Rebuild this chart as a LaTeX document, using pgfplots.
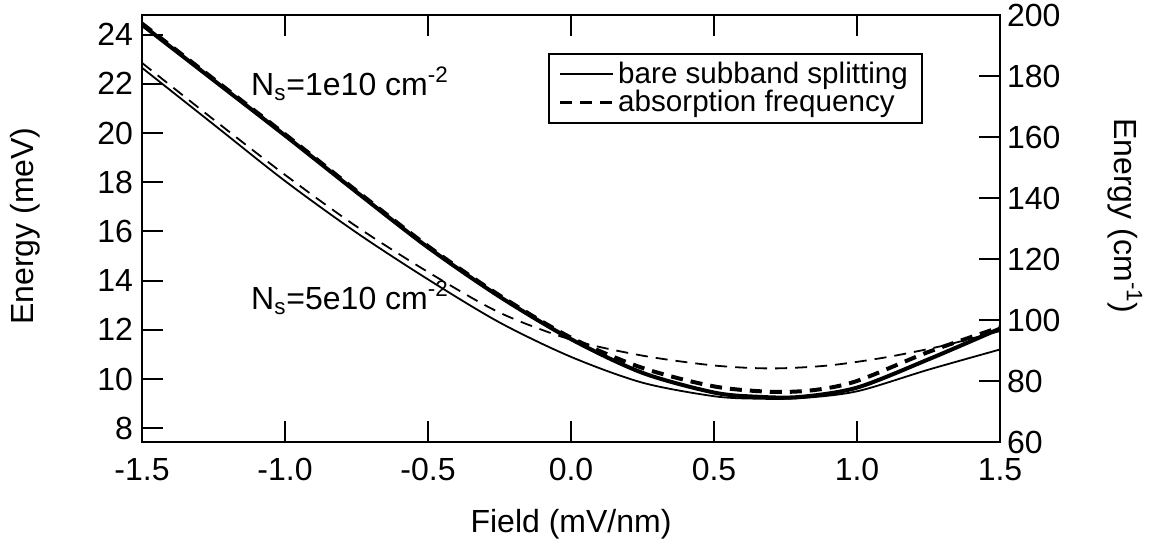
\documentclass[border=0pt]{standalone}
\usepackage{fontspec}
\setmainfont{Liberation Sans}
\usepackage{pgfplots}
\pgfplotsset{compat=1.18}

\pgfplotstableread{
x y
-1.5 24.40
-1.25 22.15
-1.0 19.90
-0.75 17.60
-0.5 15.35
-0.25 13.35
0.0 11.62
0.25 10.25
0.5 9.45
0.65 9.28
0.8 9.27
1.0 9.65
1.25 10.80
1.5 12.05
}\bareA

\pgfplotstableread{
x y
-1.5 24.45
-1.25 22.20
-1.0 19.95
-0.75 17.65
-0.5 15.40
-0.25 13.40
0.0 11.68
0.25 10.45
0.5 9.70
0.7 9.48
0.85 9.55
1.0 9.92
1.25 11.10
1.5 12.10
}\absA

\pgfplotstableread{
x y
-1.5 22.65
-1.25 20.35
-1.0 18.05
-0.75 15.95
-0.5 14.05
-0.25 12.30
0.0 10.90
0.25 9.85
0.5 9.30
0.65 9.20
0.8 9.22
1.0 9.50
1.25 10.38
1.5 11.20
}\bareB

\pgfplotstableread{
x y
-1.5 22.85
-1.25 20.55
-1.0 18.30
-0.75 16.20
-0.5 14.35
-0.25 12.70
0.0 11.60
0.25 10.95
0.5 10.55
0.7 10.43
0.9 10.55
1.1 10.88
1.3 11.35
1.5 11.95
}\absB

\begin{document}
\begin{tikzpicture}[x=1pt,y=1pt]
\path[use as bounding box] (-71,-52) rectangle (507,221);
\pgfplotsset{
  every axis/.append style={
    scale only axis, width=429pt, height=213.5pt,
    at={(0,0)}, anchor=south west,
    axis line style={line width=1.4pt},
    tick align=inside,
    major tick length=10.5pt,
    every tick/.style={black, line width=1pt},
    tick label style={font=\fontsize{16}{19}\selectfont},
    /pgf/number format/assume math mode=true,
  }
}
\begin{axis}[
  xmin=-1.5, xmax=1.5, ymin=7.4392, ymax=24.797,
  xtick={-1.5,-1,-0.5,0,0.5,1,1.5},
  xticklabels={-1.5,-1.0,-0.5,0.0,0.5,1.0,1.5},
  xtick pos=both, xticklabel pos=lower,
  ytick={8,10,...,24},
  ytick pos=left,
  xticklabel style={yshift=-4.5pt},
  yticklabel style={xshift=-1pt},
  legend style={at={(0.473,0.911)}, anchor=north west, draw=black, line width=1pt,
    font=\fontsize{14.8}{17}\selectfont, row sep=-2pt, inner xsep=5pt, inner ysep=2pt},
  legend cell align=left,
  legend image code/.code={\draw[#1] (0pt,0pt) -- (26.5pt,0pt);},
  every odd column/.append style={column sep=3pt},
]
\addlegendimage{black, line width=1.2pt}
\addlegendentry{bare subband splitting}
\addlegendimage{black, line width=1.2pt, dash pattern=on 6pt off 4pt}
\addlegendentry{absorption frequency}

\addplot[forget plot, black, line width=2pt, smooth, tension=0.5] table[x=x,y=y] {\bareA};
\addplot[forget plot, black, line width=2pt, smooth, tension=0.5, dash pattern=on 6pt off 4pt] table[x=x,y=y] {\absA};
\addplot[forget plot, black, line width=0.9pt, smooth, tension=0.5] table[x=x,y=y] {\bareB};
\addplot[forget plot, black, line width=0.9pt, smooth, tension=0.5, dash pattern=on 6pt off 4pt] table[x=x,y=y] {\absB};

\node[anchor=west, font=\fontsize{16}{19}\selectfont] at (axis cs:-1.143,22.0) {N\textsubscript{s}=1e10 cm\textsuperscript{-2}};
\node[anchor=west, font=\fontsize{16}{19}\selectfont] at (axis cs:-1.143,13.3) {N\textsubscript{s}=5e10 cm\textsuperscript{-2}};
\end{axis}

\begin{axis}[
  xmin=-1.5, xmax=1.5, ymin=60, ymax=200,
  hide x axis,
  axis y line*=right,
  ytick={60,80,...,200},
  ytick pos=right, yticklabel pos=right,
  yticklabel style={xshift=0pt},
]
\end{axis}

\node[font=\fontsize{16}{19}\selectfont, rotate=90] at (-58.5,108) {Energy (meV)};
\node[font=\fontsize{16}{19}\selectfont, rotate=-90] at (491.5,113) {Energy (cm\textsuperscript{-1})};
\node[font=\fontsize{16}{19}\selectfont] at (214.5,-41) {Field (mV/nm)};
\end{tikzpicture}
\end{document}
